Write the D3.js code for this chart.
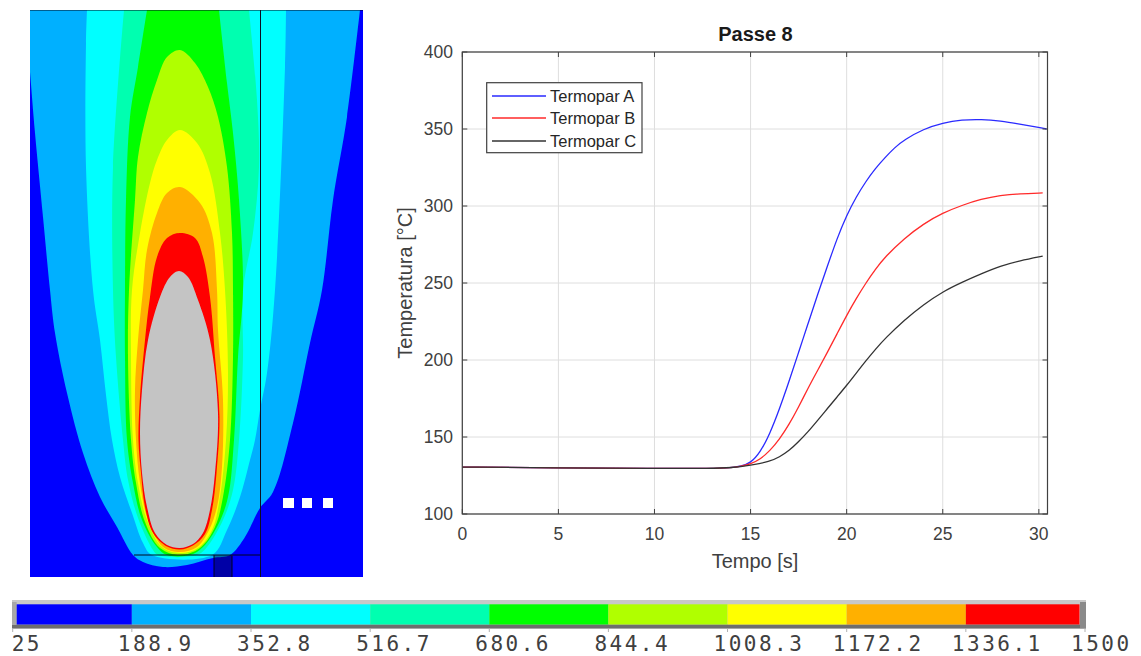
<!DOCTYPE html>
<html><head><meta charset="utf-8">
<style>html,body{margin:0;padding:0;background:#fff}svg{display:block}</style>
<script src="https://cdn.jsdelivr.net/npm/d3@7"></script></head><body>
<svg id="c" width="1141" height="656"></svg>
<script>
// ---- line chart data
const tA=[0,5,10,13,14,14.5,15,15.5,16,16.5,17,17.5,18,18.5,19,19.5,20,20.5,21,21.5,22,22.5,23,24,25,26,27,28,29,30,30.4];
const vA=[130.5,130,129.5,129.5,130,131,133,140,152,168,186,205,224,243,261,279,294,306,316,324.5,331.5,338,343,350,354,356,356.3,355.3,353.2,351,350];
const tB=[0,5,10,13,14,14.5,15,15.5,16,16.5,17,17.5,18,18.5,19,19.5,20,20.5,21,21.5,22,23,24,25,26,27,28,29,30.2];
const vB=[130.5,130,129.5,129.5,130,131,132.5,135.5,141,148.5,158,169.5,182,193.5,205,217,229,240,250,259,267,279,288.5,295.5,300.5,304.5,307,308,308.5];
const tC=[0,5,10,13,14,15,16,16.5,17,17.5,18,18.5,19,19.5,20,20.5,21,21.5,22,23,24,25,26,27,28,29,30.2];
const vC=[130.5,130,129.5,129.5,130,131.6,134,137,141,147,153.5,161,168.5,176,183.5,191.5,199.5,207,214,226,236,244.4,250.5,256,261,264.5,267.5];
const seriesNames=["Termopar A","Termopar B","Termopar C"];
const seriesColors=["#2a2aff","#ff2a2a","#333333"];
const xTicks=[0,5,10,15,20,25,30];
const yTicks=[100,150,200,250,300,350,400];
// ---- colour scale data
const levelLabels=["25","188.9","352.8","516.7","680.6","844.4","1008.3","1172.2","1336.1","1500"];
const levels=[25,188.9,352.8,516.7,680.6,844.4,1008.3,1172.2,1336.1,1500];
const levelColors=["#0000ff","#00b0ff","#00ffff","#00ffb0","#00ff00","#b0ff00","#ffff00","#ffb000","#ff0000"];
// ---- isotherm outlines (field units)
const iso189=[[25,10],[30,72],[35,133],[43,217],[50,290],[55,333],[67,393],[83,453],[100,497],[117,527],[133,555],[143,562],[163,567],[187,565],[213,558],[230,555],[245,537],[260,508],[273,492],[293,423],[310,343],[322,290],[333,200],[347,117],[360,10]];
const iso353=[[87,10],[86,43],[86,167],[93,290],[100,340],[106,395],[112,440],[120,477],[132,513],[143,543],[152,555],[212,555],[227,530],[240,497],[250,460],[255,440],[260,410],[267,373],[275,290],[285,67],[286,10]];
const iso517=[[124,10],[113,167],[113,290],[116,357],[123,440],[128,480],[138,518],[153,550],[158,555],[197,555],[207,547],[223,520],[233,490],[239,440],[243,357],[243,290],[253,233],[259,167],[257,100],[249,10]];
const iso681=[[147,10],[138,67],[130,117],[126,200],[125,290],[125,357],[127,440],[133,483],[142,520],[157,547],[167,555],[190,555],[203,547],[218,525],[228,497],[234,440],[238,357],[243,290],[239,200],[233,133],[227,83],[219,10]];
const iso844=[[180,50],[167,57],[157,80],[147,113],[138,157],[135,200],[129,290],[128,357],[131,440],[136,483],[145,522],[160,548],[180,555],[200,548],[215,527],[223,497],[230,440],[233,357],[233,290],[232,233],[227,167],[218,117],[208,87],[195,63]];
const iso1008=[[180,130],[167,140],[157,160],[150,183],[140,233],[132,290],[131,357],[133,440],[138,483],[147,520],[162,547],[180,553],[198,548],[212,530],[219,503],[226,440],[228,373],[225,290],[220,233],[210,173],[197,143]];
const iso1172=[[180,187],[167,193],[157,213],[147,250],[143,290],[138,340],[135,390],[136,440],[140,483],[148,520],[163,547],[180,552],[197,547],[209,530],[217,507],[222,467],[223,400],[218,330],[217,290],[212,233],[200,203]];
const iso1336=[[180,233],[167,238],[157,257],[150,297],[145,340],[140,397],[138.5,440],[141,473],[145,507],[153,533],[167,546.5],[180,549.5],[193,545.5],[205,534],[212,510],[216.5,473],[219.5,417],[215,357],[210,297],[203,257],[195,238]];
const isoMolten=[[179,271],[170,277],[160,297],[148,340],[142,390],[140,433],[142,473],[147,507],[155,533],[167,545],[180,548],[193,544],[203,533],[210,510],[215,473],[218,413],[210,340],[198,300],[188,277]];
const openBands=[iso189,iso353,iso517,iso681];
const closedBands=[iso844,iso1008,iso1172,iso1336,isoMolten];
const bandColors=["#00b0ff","#00ffff","#00ffb0","#00ff00","#b0ff00","#ffff00","#ffb000","#ff0000","#c4c4c4"];
const dots=[283,302,323];

const svg=d3.select("#c");
svg.append("defs").html('<clipPath id="panel"><rect x="30" y="10" width="333" height="567"/></clipPath><filter id="soft" x="-2%" y="-2%" width="104%" height="104%"><feGaussianBlur stdDeviation="0.35"/></filter>');
const FONT='"Liberation Sans",Arial,sans-serif';

// ---- field panel
const fx=d3.scaleLinear().domain([30,363]).range([30,363]);
const fy=d3.scaleLinear().domain([10,577]).range([10,577]);
const field=svg.append("g").attr("clip-path","url(#panel)").attr("filter","url(#soft)");
field.append("rect").attr("x",fx(30)).attr("y",fy(10)).attr("width",fx(363)-fx(30)).attr("height",fy(577)-fy(10)).attr("fill",levelColors[0]);
const lineOpen=d3.line().x(d=>fx(d[0])).y(d=>fy(d[1])).curve(d3.curveCatmullRom.alpha(0.5));
const lineSm=d3.line().x(d=>fx(d[0])).y(d=>fy(d[1])).curve(d3.curveCatmullRomClosed.alpha(0.5));
openBands.forEach((b,i)=>field.append("path").attr("d",lineOpen(b)+"Z").attr("fill",bandColors[i]));
closedBands.forEach((b,i)=>field.append("path").attr("d",lineSm(b)).attr("fill",bandColors[i+4]));
// mesh overlay
field.append("rect").attr("x",fx(214)).attr("y",fy(555)).attr("width",fx(232)-fx(214)).attr("height",fy(577)-fy(555)).attr("fill","#000").attr("opacity",0.35);
[[30,363,10,10],[134,260,555,555],[260.5,260.5,10,577],[214,214,555,577],[232,232,555,577]].forEach(s=>
  field.append("line").attr("x1",fx(s[0])).attr("x2",fx(s[1])).attr("y1",fy(s[2])).attr("y2",fy(s[3])).attr("stroke","#0a0a20").attr("stroke-width",1));
dots.forEach(d=>field.append("rect").attr("x",fx(d)).attr("y",fy(498)).attr("width",d===283?11:10).attr("height",10).attr("fill","#fff"));

// ---- colour bar
const cb=d3.scaleLinear().domain([25,1500]).range([12.7,1085]);
const bar=svg.append("g").attr("filter","url(#soft)");
bar.append("rect").attr("x",12).attr("y",600).attr("width",1074).attr("height",28.5).attr("fill","#c8c8c8");
bar.append("rect").attr("x",12).attr("y",624.5).attr("width",1074).attr("height",4).attr("fill","#6e6e6e");
bar.append("rect").attr("x",1080).attr("y",602).attr("width",6).attr("height",26).attr("fill","#8a8a8a");
bar.append("rect").attr("x",12).attr("y",602).attr("width",4.7).attr("height",23).attr("fill","#a8a8a8");
levelColors.forEach((c,i)=>{
  const a=Math.max(cb(levels[i]),16.7), z=Math.min(cb(levels[i+1]),1079.5);
  bar.append("rect").attr("x",a).attr("y",604.3).attr("width",z-a).attr("height",20.2).attr("fill",c);
});
levels.forEach((v,i)=>{
  bar.append("line").attr("x1",cb(v)).attr("x2",cb(v)).attr("y1",628.5).attr("y2",632).attr("stroke","#b0b0b0");
  svg.append("text").attr("x",i===0?cb(v)-1:cb(v)-14).attr("y",650.5).text(levelLabels[i])
    .attr("font-family",'"DejaVu Sans Mono",monospace').attr("font-size",21).attr("letter-spacing",2.5).attr("fill","#404040");
});

// ---- line chart
const x=d3.scaleLinear().domain([0,30.45]).range([462.3,1047.5]);
const y=d3.scaleLinear().domain([100,400]).range([514,52]);
const ch=svg.append("g").attr("filter","url(#soft)");
xTicks.forEach(t=>ch.append("line").attr("x1",x(t)).attr("x2",x(t)).attr("y1",y(100)).attr("y2",y(400)).attr("stroke","#dedede"));
yTicks.forEach(t=>ch.append("line").attr("y1",y(t)).attr("y2",y(t)).attr("x1",x(0)).attr("x2",x(30.45)).attr("stroke","#dedede"));
const lg=d3.line().x(d=>x(d[0])).y(d=>y(d[1])).curve(d3.curveBasis);
[[tA,vA],[tB,vB],[tC,vC]].forEach((s,i)=>
  ch.append("path").attr("d",lg(s[0].map((t,j)=>[t,s[1][j]]))).attr("fill","none").attr("stroke",seriesColors[i]).attr("stroke-width",1.3));
ch.append("rect").attr("x",x(0)).attr("y",y(400)).attr("width",x(30.45)-x(0)).attr("height",y(100)-y(400)).attr("fill","none").attr("stroke","#404040").attr("stroke-width",1.2);
xTicks.forEach(t=>{
  ch.append("line").attr("x1",x(t)).attr("x2",x(t)).attr("y1",y(100)).attr("y2",y(100)-5).attr("stroke","#404040");
  ch.append("line").attr("x1",x(t)).attr("x2",x(t)).attr("y1",y(400)).attr("y2",y(400)+5).attr("stroke","#404040");
  svg.append("text").attr("x",x(t)).attr("y",540).attr("text-anchor","middle").text(t).attr("font-family",FONT).attr("font-size",17.5).attr("fill","#404040");
});
yTicks.forEach(t=>{
  ch.append("line").attr("y1",y(t)).attr("y2",y(t)).attr("x1",x(0)).attr("x2",x(0)+5).attr("stroke","#404040");
  ch.append("line").attr("y1",y(t)).attr("y2",y(t)).attr("x1",x(30.45)).attr("x2",x(30.45)-5).attr("stroke","#404040");
  svg.append("text").attr("x",453).attr("y",y(t)+6).attr("text-anchor","end").text(t).attr("font-family",FONT).attr("font-size",17.5).attr("fill","#404040");
});
svg.append("text").attr("x",755.5).attr("y",41).attr("text-anchor","middle").text("Passe 8").attr("font-family",FONT).attr("font-size",20).attr("font-weight","bold").attr("fill","#1a1a1a");
svg.append("text").attr("x",755).attr("y",568).attr("text-anchor","middle").text("Tempo [s]").attr("font-family",FONT).attr("font-size",20).attr("fill","#404040");
svg.append("text").attr("transform","translate(412,283) rotate(-90)").attr("text-anchor","middle").text("Temperatura [°C]").attr("font-family",FONT).attr("font-size",20).attr("fill","#404040");
// legend
ch.append("rect").attr("x",486.7).attr("y",82.7).attr("width",155.3).attr("height",70).attr("fill","#fff").attr("stroke","#404040").attr("stroke-width",1.2);
seriesNames.forEach((n,i)=>{
  const ly=[96,118,141][i];
  ch.append("line").attr("x1",492).attr("x2",546).attr("y1",ly).attr("y2",ly).attr("stroke",seriesColors[i]).attr("stroke-width",1.3);
  svg.append("text").attr("x",550).attr("y",ly+6).text(n).attr("font-family",FONT).attr("font-size",16.5).attr("fill","#262626");
});
</script></body></html>
